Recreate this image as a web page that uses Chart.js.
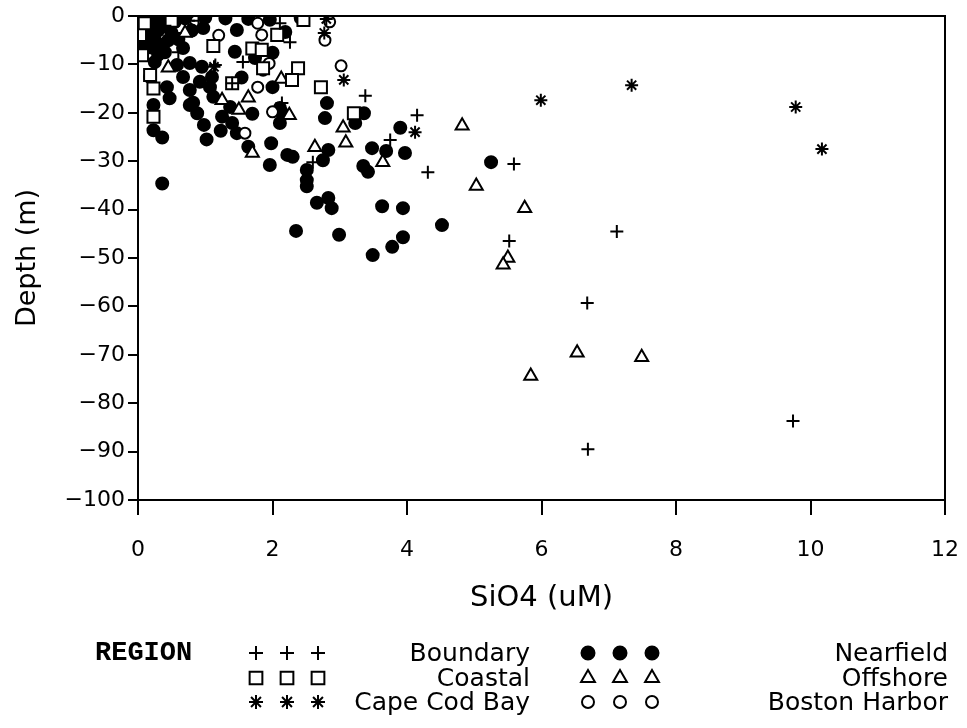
<!DOCTYPE html>
<html>
<head>
<meta charset="utf-8">
<title>SiO4 vs Depth by Region</title>
<script src="https://cdn.jsdelivr.net/npm/chart.js@4/dist/chart.umd.min.js"></script>
<style>
    html, body { margin: 0; padding: 0; background: #fff; }
    #wrap { width: 967px; height: 728px; position: relative; }
</style>
</head>
<body>
<div id="wrap"><canvas id="depth-chart"></canvas></div>
<script>
// Data: [SiO4 (uM), depth (m)]
const boundary = [
    [4.15, -20.5], [4.31, -32.3], [5.59, -30.6], [5.52, -46.5], [7.12, -44.5],
    [6.68, -59.3], [6.69, -89.5], [9.74, -83.7], [3.75, -25.6], [2.60, -30.2],
    [2.14, -18.0], [3.38, -16.5], [2.11, -1.5], [2.26, -5.4], [1.56, -9.5],
    [1.15, -10.1], [1.40, -13.9], [0.90, -1.0], [0.40, -2.0], [0.55, -3.5],
    [0.60, -7.5]
];
const coastal = [
    [2.46, -0.8], [2.07, -3.9], [1.70, -6.7], [1.84, -7.0], [2.38, -10.8],
    [2.29, -13.2], [2.72, -14.7], [1.40, -13.9], [0.03, -3.9], [0.06, -8.1],
    [0.18, -12.2], [0.23, -15.0], [0.23, -20.8], [1.86, -10.8], [3.21, -20.1],
    [1.12, -6.2], [0.10, -1.5], [0.50, -1.0]
];
const capeCodBay = [
    [7.34, -14.3], [5.99, -17.4], [9.78, -18.8], [10.17, -27.5], [4.12, -24.0],
    [3.06, -13.2], [2.77, -3.5], [2.80, -0.6], [1.13, -10.5], [0.75, -1.0],
    [0.45, -2.5]
];
const nearfield = [
    [0.23, -18.4], [0.23, -23.6], [0.36, -25.1], [0.36, -34.6], [1.02, -25.5],
    [0.98, -22.5], [0.88, -20.1], [0.77, -18.4], [1.23, -23.7], [1.25, -20.8],
    [1.40, -22.1], [1.47, -24.2], [1.70, -20.2], [1.37, -18.8], [1.64, -27.0],
    [1.98, -26.3], [1.96, -30.8], [2.11, -22.1], [2.14, -20.0], [2.11, -19.0],
    [2.22, -28.7], [2.30, -29.1], [2.51, -31.8], [2.51, -33.9], [2.51, -35.2],
    [2.66, -38.6], [2.83, -37.6], [2.88, -39.7], [2.35, -44.4], [2.99, -45.2],
    [2.75, -29.8], [2.83, -27.7], [2.81, -18.0], [2.78, -21.1], [3.23, -22.1],
    [3.36, -20.1], [3.48, -27.3], [3.69, -27.9], [3.35, -31.0], [3.42, -32.2],
    [3.90, -23.1], [3.97, -28.3], [3.63, -39.3], [3.94, -39.7], [4.52, -43.2],
    [3.94, -45.7], [3.78, -47.7], [3.49, -49.4], [5.25, -30.2],
    [1.47, -2.9], [1.64, -0.6], [1.44, -7.4], [2.00, -7.6], [1.74, -8.7],
    [2.19, -3.3], [1.96, -0.8], [2.42, -0.4], [1.54, -12.7], [2.00, -14.7],
    [0.97, -2.5], [0.67, -6.6], [0.58, -10.1], [0.77, -9.7], [0.95, -10.5],
    [1.10, -12.6], [0.67, -12.6], [0.92, -13.6], [1.07, -14.7], [0.77, -15.3],
    [1.12, -16.7], [0.82, -17.9], [0.18, -12.6], [0.43, -14.7], [0.47, -17.0],
    [0.05, -0.5], [0.15, -1.0], [0.25, -0.7], [0.35, -0.5], [0.10, -2.0],
    [0.20, -2.5], [0.30, -3.0], [0.40, -1.8], [0.50, -3.5], [0.15, -4.0],
    [0.25, -5.0], [0.35, -6.0], [0.45, -5.0], [0.20, -6.5], [0.30, -8.0],
    [0.10, -6.0], [0.55, -1.2], [0.60, -4.8], [0.40, -7.5], [0.25, -9.5],
    [0.70, -0.5], [0.80, -3.0], [1.00, -0.3], [1.30, -0.5]
];
const offshore = [
    [4.82, -22.7], [5.03, -35.1], [5.75, -39.7], [5.50, -50.0], [5.43, -51.4],
    [6.53, -69.6], [7.49, -70.5], [5.84, -74.4], [3.05, -23.1], [3.09, -26.2],
    [2.63, -27.1], [3.64, -30.2], [1.70, -28.3], [2.25, -20.5], [1.50, -19.4],
    [2.13, -13.0], [1.64, -16.9], [0.45, -10.7], [1.25, -17.4], [0.70, -3.5]
];
const bostonHarbor = [
    [1.78, -1.5], [1.84, -3.9], [2.85, -1.2], [2.78, -5.0], [3.02, -10.3],
    [1.78, -14.7], [2.00, -19.8], [1.86, -11.2], [1.59, -24.2], [0.50, -1.0],
    [1.20, -4.0], [1.95, -9.8]
];

const regionNames = ['Boundary', 'Coastal', 'Cape Cod Bay', 'Nearfield', 'Offshore', 'Boston Harbor'];
const xTicks = [0, 2, 4, 6, 8, 10, 12];
const yTicks = [0, -10, -20, -30, -40, -50, -60, -70, -80, -90, -100];

const FONT = 'DejaVu Sans';

function toPoints(arr) {
    return arr.map(p => ({ x: p[0], y: p[1] }));
}

// one dataset per region, black symbols like the original plot
function regionSet(name, arr, style, radius, fill, order) {
    return {
        label: name,
        data: toPoints(arr),
        pointStyle: style,
        pointRadius: radius,
        pointHoverRadius: radius,
        pointBorderWidth: 2,
        pointBorderColor: '#000',
        pointBackgroundColor: fill,
        showLine: false,
        order: order
    };
}

// legend block under the axis: REGION + 2 columns x 3 rows
const regionLegend = {
    id: 'regionLegend',
    afterDraw(chart) {
        const ctx = chart.ctx;
        const rows = [653, 678, 702];
        const cols = [
            { marks: [256, 287, 318], textRight: 530 },
            { marks: [588, 620, 652], textRight: 948 }
        ];
        ctx.save();
        ctx.fillStyle = '#000';
        ctx.font = 'bold 27px "Liberation Mono"';
        ctx.textAlign = 'left';
        ctx.textBaseline = 'middle';
        ctx.fillText('REGION', 95, rows[0]);

        chart.data.datasets.forEach((ds, i) => {
            const col = cols[Math.floor(i / 3)];
            const y = rows[i % 3];
            col.marks.forEach(x => {
                ctx.strokeStyle = '#000';
                ctx.fillStyle = ds.pointBackgroundColor;
                ctx.lineWidth = 2;
                Chart.helpers.drawPoint(ctx, {
                    pointStyle: ds.pointStyle,
                    radius: ds.pointRadius + 0.5,
                    rotation: 0,
                    borderWidth: 2
                }, x, y);
            });
            ctx.fillStyle = '#000';
            ctx.font = '25px "' + FONT + '"';
            ctx.textAlign = 'right';
            ctx.fillText(ds.label, col.textRight, y + 1);
        });
        ctx.restore();
    }
};

// box around the plot area
const frame = {
    id: 'frame',
    afterDatasetsDraw(chart) {
        const a = chart.chartArea;
        const ctx = chart.ctx;
        ctx.save();
        ctx.strokeStyle = '#000';
        ctx.lineWidth = 2;
        ctx.strokeRect(a.left, a.top, a.right - a.left, a.bottom - a.top);
        ctx.restore();
    }
};

const ctx = document.getElementById('depth-chart');
new Chart(ctx, {
    type: 'scatter',
    data: {
        datasets: [
            regionSet(regionNames[0], boundary, 'cross', 6.5, '#000', 0),
            regionSet(regionNames[1], coastal, 'rect', 8.5, '#fff', 0),
            regionSet(regionNames[2], capeCodBay, 'star', 6.5, '#000', 0),
            regionSet(regionNames[3], nearfield, 'circle', 6, '#000', 1),
            regionSet(regionNames[4], offshore, 'triangle', 7.5, '#fff', 0),
            regionSet(regionNames[5], bostonHarbor, 'circle', 5.5, '#fff', 0)
        ]
    },
    plugins: [frame, regionLegend],
    options: {
        responsive: true,
        maintainAspectRatio: false,
        animation: false,
        layout: {
            padding: { left: 0, right: 22, top: 16, bottom: 112 }
        },
        plugins: {
            legend: { display: false },
            tooltip: { enabled: false }
        },
        scales: {
            x: {
                type: 'linear',
                min: 0,
                max: 12,
                afterBuildTicks: axis => { axis.ticks = xTicks.map(v => ({ value: v })); },
                afterFit: axis => {
                    axis.height = 116;
                    axis.paddingLeft = 0;
                    axis.paddingRight = 0;
                },
                border: { display: false },
                grid: {
                    drawOnChartArea: false,
                    drawTicks: true,
                    tickLength: 15,
                    color: '#000',
                    lineWidth: 2
                },
                ticks: {
                    color: '#000',
                    padding: 22,
                    maxRotation: 0,
                    font: { family: FONT, size: 22 }
                },
                title: {
                    display: true,
                    text: 'SiO4 (uM)',
                    color: '#000',
                    padding: 0,
                    font: { family: FONT, size: 29 }
                }
            },
            y: {
                type: 'linear',
                min: -100,
                max: 0,
                afterBuildTicks: axis => { axis.ticks = yTicks.map(v => ({ value: v })); },
                afterFit: axis => {
                    axis.width = 138;
                    axis.paddingTop = 0;
                    axis.paddingBottom = 0;
                },
                border: { display: false },
                grid: {
                    drawOnChartArea: false,
                    drawTicks: true,
                    tickLength: 10,
                    color: '#000',
                    lineWidth: 2
                },
                ticks: {
                    color: '#000',
                    padding: 3,
                    font: { family: FONT, size: 22 },
                    callback: v => v === 0 ? '0' : '\u2212' + Math.abs(v)
                },
                title: {
                    display: true,
                    text: 'Depth (m)',
                    color: '#000',
                    padding: { top: 12, bottom: 0 },
                    font: { family: FONT, size: 27 }
                }
            }
        }
    }
});
</script>
</body>
</html>
